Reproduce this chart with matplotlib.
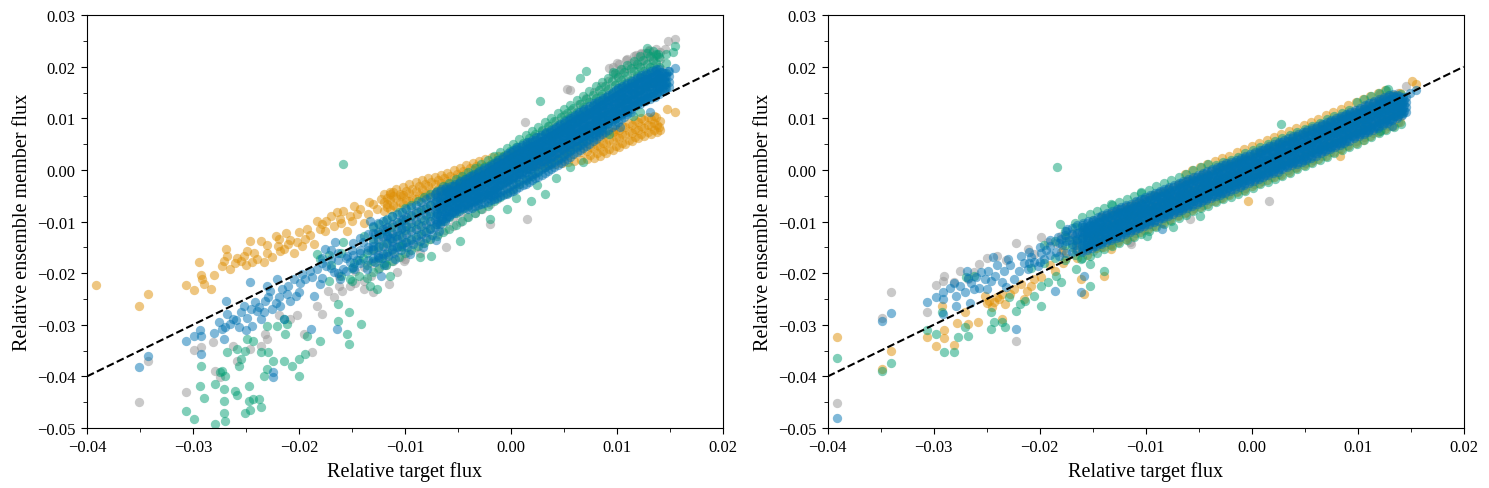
import matplotlib
matplotlib.use("Agg")
import matplotlib.pyplot as plt
from matplotlib.ticker import MultipleLocator

# fluxes, in units of 1e-3 (converted when plotted)
# dense parts of each cloud: (target flux, [member fluxes])
# sparse parts: (target flux, member flux)

# ---------------- left panel ----------------
left_gray_band = [
    (-17.3, [-23.5]), (-16.2, [-22.5, -20.5]), (-14.7, [-22.0, -19.5]), (-13.9, [-21.5, -18.8]),
    (-13.2, [-20.5, -18.0, -15.5]),
    (-12.5, [-19.2, -17.4, -15.6, -13.8, -12.0]), (-11.8, [-18.4, -16.6, -14.8, -13.0, -11.2]),
    (-11.1, [-17.6, -15.8, -14.0, -12.2, -10.4]), (-10.4, [-16.8, -15.0, -13.2, -11.4, -9.6]),
    (-9.7, [-15.9, -14.1, -12.3, -10.5, -8.7]), (-9.0, [-15.0, -13.3, -11.4, -9.7, -7.9]),
    (-8.3, [-14.2, -12.4, -10.6, -8.8, -7.0]), (-7.6, [-13.4, -11.5, -9.8, -7.9, -6.2]),
    (-6.9, [-12.5, -10.7, -8.9, -7.1, -5.3]), (-6.2, [-11.7, -9.9, -8.1, -6.3, -4.5]),
    (-5.5, [-10.9, -9.1, -7.3, -5.5, -3.7]), (-4.8, [-10.0, -8.3, -6.4, -4.7, -2.9]),
    (-4.1, [-9.2, -7.4, -5.6, -3.8, -2.0]), (-3.4, [-8.3, -6.6, -4.7, -3.0, -1.2]),
    (-2.7, [-7.5, -5.7, -3.9, -2.1, -0.3]), (-2.0, [-6.6, -4.8, -3.0, -1.2, 0.6]),
    (-1.3, [-5.6, -3.9, -2.0, -0.3, 1.5]), (-0.6, [-4.7, -2.9, -1.1, 0.7, 2.5]),
    (0.1, [-3.8, -2.0, -0.2, 1.7, 3.4]), (0.8, [-2.8, -1.0, 0.9, 2.6, 4.5]),
    (1.5, [-1.7, 0.1, 1.9, 3.7, 5.5]), (2.2, [-0.7, 1.1, 2.9, 4.7, 6.5]),
    (2.9, [0.3, 2.1, 3.9, 5.7, 7.5]), (3.6, [1.3, 3.1, 4.9, 6.7, 8.5]),
    (4.3, [2.4, 4.2, 6.0, 7.8, 9.5]), (5.0, [3.5, 5.3, 7.1, 8.9, 10.6]),
    (5.7, [4.6, 6.4, 8.2, 10.0, 11.7]), (6.4, [5.6, 7.4, 9.2, 11.0, 12.8]),
    (7.1, [6.8, 8.6, 10.4, 12.2, 13.9]), (7.8, [7.9, 9.7, 11.5, 13.3, 15.1]),
    (8.5, [9.0, 10.8, 12.6, 14.4, 16.2]), (9.2, [10.1, 11.9, 13.7, 15.5, 17.3]),
    (9.9, [11.3, 13.0, 14.8, 16.6, 18.4]), (10.6, [12.4, 14.2, 16.0, 17.8, 19.6]),
    (11.3, [13.6, 15.4, 17.2, 18.9, 20.7]), (12.0, [14.7, 16.5, 18.3, 20.1, 21.9]),
    (12.7, [15.8, 17.6, 19.4, 21.1, 22.6]), (13.4, [16.8, 18.6, 20.4, 22.0]),
    (14.1, [17.9, 19.7, 21.5, 22.8]),
    (9.6, [18.5, 20.0]), (10.2, [19.2, 20.6]), (10.9, [19.8, 21.3]), (11.6, [20.5, 22.0]),
    (12.3, [21.2, 22.6]), (13.0, [21.8, 23.0]), (13.7, [22.2, 23.4]),
]
left_gray_pts = [
    (-35.1, -44.9), (-34.2, -36.95), (-30.7, -43.1), (-29.9, -34.9), (-29.2, -34.4), (-28.1, -33.4),
    (-27.9, -38.9), (-27.4, -40.2), (-25.85, -36.95), (-26.2, -34.05), (-24.6, -34.7), (-23.6, -34.05),
    (-23.2, -31.8), (-23.0, -32.8), (-21.9, -28.2), (-20.8, -28.9), (-20.2, -28.2), (-19.55, -31.8),
    (-18.8, -35.3), (-18.3, -26.3), (-17.8, -27.9), (-16.7, -24.7), (-15.9, -23.4), (-15.2, -22.4),
    (-13.9, -23.1), (-13.0, -23.7), (-11.5, -22.1), (-10.1, -17.6), (-10.75, -19.8), (-10.0, -17.3),
    (-8.6, -16.0), (-6.1, -15.0), (-2.0, -10.5), (1.5, -9.5), (1.3, 9.2), (5.25, 15.7), (5.6, 15.4),
    (9.3, 19.8), (10.0, 20.8), (11.0, 21.5), (11.85, 22.3), (12.3, 22.5), (13.0, 23.2), (14.5, 23.5),
    (14.8, 25.0), (15.5, 25.4),
]

left_orange_band = [
    (-12.0, [-8.0, -6.3, -4.6]), (-11.4, [-7.6, -5.9, -4.2]), (-10.8, [-7.1, -5.4, -3.7]),
    (-10.2, [-6.6, -4.9, -3.3]), (-9.6, [-6.1, -4.5, -2.8]), (-9.0, [-5.7, -4.0, -2.4]),
    (-8.4, [-5.2, -3.6, -2.0]), (-7.8, [-4.8, -3.2, -1.6]), (-7.2, [-4.4, -2.8, -1.3]),
    (-6.6, [-4.0, -2.5, -0.9]), (-6.0, [-3.6, -2.1, -0.6]), (-5.4, [-3.1, -1.6, -0.1]),
    (-4.8, [-2.6, -1.1, 0.4]), (-4.2, [-2.1, -0.6, 0.9]), (-3.6, [-1.6, -0.1, 1.4]),
    (-3.0, [-1.1, 0.4, 1.8]), (-2.4, [-0.7, 0.8, 2.2]), (-1.8, [-0.4, 1.1, 2.5]),
    (-1.2, [-0.1, 1.3, 2.7]), (-0.6, [0.1, 1.5, 2.9]), (0.0, [0.3, 1.7, 3.0]),
    (0.6, [0.5, 1.8, 3.1]), (1.2, [0.6, 1.9, 3.2]), (1.8, [0.7, 2.0, 3.3]),
    (2.4, [0.8, 2.1, 3.4]), (3.0, [0.9, 2.2, 3.5]), (3.6, [1.0, 2.3, 3.7]),
    (4.2, [1.1, 2.5, 3.9]), (4.8, [1.3, 2.7, 4.1]), (5.4, [1.5, 2.9, 4.3]),
    (6.0, [1.7, 3.1, 4.6]), (6.6, [1.9, 3.4, 4.9]), (7.2, [2.1, 3.7, 5.3]),
    (7.8, [2.4, 4.0, 5.7]), (8.4, [2.8, 4.5, 6.2]), (9.0, [3.3, 5.0, 6.7]),
    (9.6, [3.8, 5.6, 7.3]), (10.2, [4.4, 6.1, 7.8]), (10.8, [5.0, 6.7, 8.3]),
    (11.4, [5.6, 7.2, 8.8]), (12.0, [6.1, 7.7, 9.2]), (12.6, [6.6, 8.1, 9.6]),
    (13.2, [7.0, 8.5, 9.9]), (13.8, [7.4, 8.7]),
]
left_orange_fill = [
    (-11.7, [-7.2, -5.5]), (-11.1, [-6.8, -5.0]), (-10.5, [-6.3, -4.6]), (-9.9, [-5.8, -4.1]),
    (-9.3, [-5.4, -3.7]), (-8.7, [-4.9, -3.2]), (-8.1, [-4.5, -2.8]), (-7.5, [-4.0, -2.4]),
    (-6.9, [-3.6, -2.0]), (-6.3, [-3.2, -1.6]), (-5.7, [-2.7, -1.2]), (-5.1, [-2.2, -0.7]),
    (-4.5, [-1.7, -0.2]), (-3.9, [-1.2, 0.3]), (-3.3, [-0.7, 0.8]),
    (7.5, [2.9, 4.5]), (8.1, [3.2, 4.8]), (8.7, [3.6, 5.3, 6.9]), (9.3, [4.1, 5.8, 7.5]),
    (9.9, [4.6, 6.3, 8.0]), (10.5, [5.2, 6.9, 8.6]), (11.1, [5.8, 7.5, 9.1]), (11.7, [6.3, 8.0, 9.6]),
    (12.3, [6.9, 8.5, 10.0]), (12.9, [7.3, 8.8, 10.3]), (13.5, [7.7, 9.1, 10.5]), (14.1, [7.8, 9.4]),
]
left_orange_pts = [
    (-39.1, -22.2), (-35.1, -26.4), (-34.2, -24.1), (-30.7, -22.2), (-29.9, -23.3), (-29.4, -17.9),
    (-29.2, -20.3), (-29.1, -21.1), (-29.0, -22.1), (-28.3, -23.1), (-28.0, -20.3), (-27.3, -18.7),
    (-27.1, -17.6), (-26.9, -15.3), (-26.8, -16.6), (-26.5, -19.2), (-25.85, -17.07), (-25.5, -17.6),
    (-25.2, -16.6), (-24.9, -15.65), (-24.6, -13.7), (-24.4, -17.9), (-24.0, -17.3), (-23.6, -13.7),
    (-23.3, -17.9), (-23.0, -16.0), (-22.5, -16.9), (-22.2, -12.75), (-21.9, -13.4), (-21.8, -15.65),
    (-21.45, -15.3), (-21.2, -12.2), (-21.0, -14.4), (-20.5, -16.0), (-20.0, -12.1), (-19.7, -14.7),
    (-19.4, -13.4), (-19.2, -11.45), (-18.6, -14.4), (-18.3, -9.8), (-18.0, -11.45), (-17.8, -10.5),
    (-17.4, -9.8), (-16.7, -10.8), (-16.4, -8.2), (-16.1, -9.5), (-15.8, -7.9), (-15.5, -11.8),
    (-15.2, -8.9), (-14.8, -6.9), (-14.2, -7.6), (-13.9, -10.2), (-13.4, -6.3), (-13.0, -6.6),
    (-12.6, -7.6), (-12.3, -5.6), (-11.7, -6.6), (-11.4, -4.7), (-11.1, -4.35), (-10.4, -5.0),
    (-26.0, -18.0), (-25.0, -18.5), (-24.2, -16.0), (-23.0, -14.5), (-22.0, -14.8), (-20.8, -13.5),
    (-20.2, -14.0), (-19.0, -12.6), (-17.5, -11.8), (-17.0, -9.0), (-16.0, -10.2), (-15.0, -9.8),
    (-14.5, -8.5), (-13.5, -8.6), (14.7, 11.8), (15.5, 11.2), (14.0, 8.25), (13.7, 10.3), (9.65, 7.3),
]

left_green_band = [
    (-17.2, [-21.5, -16.5]), (-16.0, [-20.5]), (-15.0, [-21.5, -19.0]), (-14.3, [-20.5, -17.5]),
    (-13.6, [-21.0, -18.5, -16.0]),
    (-13.0, [-19.8, -17.6, -15.4, -13.4, -11.0]), (-12.4, [-19.0, -17.1, -14.8, -12.5, -10.5]),
    (-11.8, [-18.5, -16.2, -14.1, -11.8, -9.6]), (-11.2, [-17.6, -15.5, -13.2, -11.1, -8.9]),
    (-10.6, [-16.9, -14.7, -12.6, -10.3, -8.1]), (-10.0, [-16.1, -14.0, -11.7, -9.6, -7.4]),
    (-9.4, [-15.5, -13.3, -11.1, -8.9, -6.7]), (-8.8, [-14.8, -12.6, -10.4, -8.2, -6.0]),
    (-8.2, [-14.1, -11.9, -9.7, -7.5, -5.3]), (-7.6, [-13.4, -11.2, -9.0, -6.8, -4.6]),
    (-7.0, [-12.7, -10.5, -8.4, -6.1, -4.0]), (-6.4, [-12.1, -9.8, -7.6, -5.5, -3.2]),
    (-5.8, [-11.4, -9.1, -7.0, -4.7, -2.5]), (-5.2, [-10.6, -8.4, -6.2, -4.0, -1.8]),
    (-4.6, [-9.9, -7.6, -5.4, -3.3, -1.1]), (-4.0, [-9.1, -6.9, -4.7, -2.5, -0.3]),
    (-3.4, [-8.4, -6.1, -4.0, -1.7, 0.4]), (-2.8, [-7.6, -5.4, -3.2, -1.0, 1.2]),
    (-2.2, [-6.9, -4.6, -2.4, -0.3, 1.9]), (-1.6, [-6.0, -3.9, -1.6, 0.5, 2.7]),
    (-1.0, [-5.2, -3.0, -0.9, 1.3, 3.5]), (-0.4, [-4.5, -2.2, 0.0, 2.2, 4.3]),
    (0.2, [-3.6, -1.5, 0.8, 2.9, 5.1]), (0.8, [-2.8, -0.6, 1.6, 3.8, 6.0]),
    (1.4, [-2.0, 0.2, 2.4, 4.6, 6.8]), (2.0, [-1.2, 1.0, 3.2, 5.4, 7.6]),
    (2.6, [-0.4, 1.9, 4.0, 6.3, 8.4]), (3.2, [0.5, 2.7, 4.9, 7.1, 9.3]),
    (3.8, [1.3, 3.5, 5.7, 7.9, 10.1]), (4.4, [2.1, 4.4, 6.6, 8.7, 11.0]),
    (5.0, [3.0, 5.2, 7.4, 9.6, 11.8]), (5.6, [3.9, 6.0, 8.2, 10.5, 12.6]),
    (6.2, [4.7, 6.9, 9.1, 11.3, 13.5]), (6.8, [5.6, 7.8, 10.0, 12.2, 14.4]),
    (7.4, [6.5, 8.7, 10.9, 13.1, 15.3]), (8.0, [7.4, 9.6, 11.8, 14.0, 16.2]),
    (8.6, [8.2, 10.4, 12.6, 14.8, 17.0]), (9.2, [9.1, 11.3, 13.5, 15.7, 17.9]),
    (9.8, [9.9, 12.1, 14.3, 16.5, 18.7]), (10.4, [10.8, 13.0, 15.2, 17.4, 19.6]),
    (11.0, [11.6, 13.8, 16.0, 18.2, 20.4]), (11.6, [12.5, 14.7, 16.9, 19.1, 21.2]),
    (12.2, [13.4, 15.5, 17.8, 19.9, 22.0]), (12.8, [14.2, 16.3, 18.5, 20.6, 22.6]),
    (13.4, [15.0, 17.1, 19.3, 21.3, 23.0]), (14.0, [15.8, 17.9, 20.0, 21.9]),
    (14.6, [16.6, 18.7, 20.7, 22.5]),
]
left_green_fill = [
    (-6.1, [-6.2, -4.0]), (-5.5, [-5.5, -3.2]), (-4.9, [-4.7, -2.5]), (-4.3, [-3.9, -1.8]),
    (-3.7, [-3.2, -1.0]), (-3.1, [-2.4, -0.3]), (-2.5, [-1.7, 0.5]), (-1.9, [-0.9, 1.2]),
    (-1.3, [-0.1, 2.0]), (-0.7, [0.6, 2.8]), (-0.1, [1.5, 3.6]), (0.5, [2.3, 4.4]),
    (1.1, [3.1, 5.3]), (1.7, [3.9, 6.1]), (2.3, [4.8, 6.9]), (2.9, [5.6, 7.8]),
    (3.5, [6.4, 8.6]), (4.1, [7.2, 9.4]), (4.7, [8.1, 10.3]), (5.3, [8.9, 11.1]),
    (5.9, [9.8, 12.0]), (6.5, [10.6, 12.8]), (7.1, [11.5, 13.7]), (7.7, [12.4, 14.6]),
    (8.3, [13.3, 15.5]), (8.9, [14.1, 16.3]), (9.5, [15.0, 17.2]), (10.1, [15.8, 18.0]),
    (10.7, [16.7, 18.9]), (11.3, [17.5, 19.7]), (11.9, [18.4, 20.5]), (12.5, [19.2, 21.3]),
    (13.1, [19.9, 22.0]), (13.7, [20.7, 22.5]),
]
left_green_pts = [
    (-15.85, 1.1),
    (-18.3, -16.3), (-18.0, -17.3), (-15.8, -14.0), (-15.2, -21.1), (-13.9, -12.75), (-13.3, -22.4),
    (-12.6, -23.1), (-11.4, -20.5), (-10.4, -14.7), (-17.0, -18.5), (-16.0, -16.0), (-14.8, -18.0),
    (-14.0, -17.0), (-12.0, -18.0),
    (-16.3, -26.0), (-15.3, -27.6), (-16.3, -29.2), (-15.5, -31.8), (-15.3, -33.7), (-14.1, -29.9),
    (-21.45, -28.9), (-21.3, -31.8), (-23.0, -30.2), (-23.6, -35.3), (-22.9, -35.3), (-22.4, -37.0),
    (-21.45, -37.0), (-20.7, -37.9), (-20.0, -36.6), (-19.4, -35.7), (-20.0, -39.9), (-19.25, -32.1),
    (-18.0, -33.1), (-23.3, -39.9), (-23.0, -38.6), (-21.1, -29.8), (-22.1, -30.2),
    (-24.9, -32.8), (-24.3, -33.1), (-25.1, -35.0), (-25.85, -34.7), (-26.8, -35.3), (-25.5, -36.6),
    (-25.7, -37.9), (-27.3, -38.9), (-27.4, -39.2), (-26.95, -39.9), (-27.9, -41.5), (-27.1, -42.4),
    (-26.0, -42.8), (-25.85, -43.7), (-24.7, -41.8), (-24.75, -44.7), (-24.3, -44.4), (-23.8, -44.4),
    (-23.6, -46.0), (-24.6, -46.6), (-25.1, -47.0), (-27.1, -44.7), (-27.1, -47.0), (-26.95, -48.6),
    (-27.9, -49.2), (-29.0, -44.25), (-29.3, -41.9), (-29.2, -37.9), (-30.7, -46.8), (-29.9, -48.3),
    (1.9, -6.0), (3.2, -4.7), (4.3, -1.5), (2.5, -3.0), (5.6, 0.5), (6.8, 1.5), (0.5, -5.5),
    (-0.4, -7.6), (-2.0, -9.5), (-4.8, -13.7), (-7.5, -16.7), (-8.6, -16.9), (9.3, 6.9), (11.5, 10.5),
    (12.2, 11.2), (2.7, 13.4), (6.5, 17.9), (7.1, 19.2), (9.65, 18.9), (12.8, 23.7), (13.9, 22.4),
    (15.3, 22.8), (15.5, 24.1),
]

left_blue_band = [
    (-17.8, [-21.0, -17.0]), (-17.0, [-19.0, -15.5]), (-16.3, [-20.0, -16.0]), (-15.6, [-19.5, -17.0]),
    (-14.9, [-18.8, -16.5, -14.2]), (-14.2, [-18.0, -15.6, -13.2]), (-13.5, [-17.5, -15.0, -12.5]),
    (-13.0, [-17.1, -15.5, -14.0, -12.3, -10.9]), (-12.55, [-16.8, -15.0, -13.4, -12.0, -10.3]),
    (-12.1, [-16.2, -14.7, -13.0, -11.5, -9.9]), (-11.65, [-15.9, -14.2, -12.6, -11.1, -9.5]),
    (-11.2, [-15.3, -13.8, -12.2, -10.5, -9.0]), (-10.75, [-15.0, -13.3, -11.8, -10.1, -8.6]),
    (-10.3, [-14.4, -12.9, -11.2, -9.8, -8.1]), (-9.85, [-14.0, -12.4, -10.9, -9.2, -7.6]),
    (-9.4, [-13.5, -11.9, -10.3, -8.8, -7.2]), (-8.95, [-13.0, -11.5, -9.8, -8.3, -6.7]),
    (-8.5, [-12.5, -10.9, -9.4, -7.7, -6.2]), (-8.05, [-12.0, -10.4, -8.8, -7.3, -5.7]),
    (-7.6, [-11.5, -9.9, -8.4, -6.8, -5.2]), (-7.15, [-11.0, -9.5, -7.8, -6.3, -4.7]),
    (-6.7, [-10.4, -8.9, -7.3, -5.8, -4.1]), (-6.25, [-9.9, -8.4, -6.8, -5.2, -3.7]),
    (-5.8, [-8.9, -7.5, -6.2, -5.0, -3.6]), (-5.35, [-8.3, -7.1, -5.7, -4.4, -3.1]),
    (-4.9, [-7.9, -6.5, -5.3, -3.9, -2.6]), (-4.45, [-7.3, -6.0, -4.7, -3.4, -2.1]),
    (-4.0, [-6.8, -5.5, -4.2, -2.9, -1.6]), (-3.55, [-6.3, -5.0, -3.7, -2.4, -1.1]),
    (-3.1, [-5.8, -4.5, -3.2, -1.9, -0.6]), (-2.65, [-5.3, -4.0, -2.7, -1.4, -0.1]),
    (-2.2, [-4.8, -3.5, -2.2, -0.9, 0.4]), (-1.75, [-4.3, -2.9, -1.6, -0.3, 1.0]),
    (-1.3, [-3.6, -2.3, -1.0, 0.3, 1.6]), (-0.85, [-3.0, -1.7, -0.4, 0.9, 2.2]),
    (-0.4, [-2.4, -1.1, 0.2, 1.6, 2.9]), (0.05, [-1.8, -0.4, 0.9, 2.1, 3.5]),
    (0.5, [-1.3, 0.1, 1.4, 2.6, 4.0]), (0.95, [-0.8, 0.6, 1.8, 3.1, 4.5]),
    (1.4, [-0.3, 1.0, 2.4, 3.6, 5.0]), (1.85, [0.2, 1.5, 2.8, 4.2, 5.5]),
    (2.3, [0.7, 2.0, 3.3, 4.6, 5.9]), (2.75, [1.2, 2.5, 3.8, 5.1, 6.4]),
    (3.2, [1.7, 3.0, 4.3, 5.6, 6.9]), (3.65, [2.1, 3.4, 4.8, 6.0, 7.4]),
    (4.1, [2.7, 4.0, 5.3, 6.6, 7.9]), (4.55, [3.3, 4.6, 5.9, 7.2, 8.5]),
    (5.0, [3.9, 5.2, 6.5, 7.8, 9.1]), (5.45, [4.5, 5.8, 7.1, 8.4, 9.7]),
    (5.9, [5.1, 6.4, 7.7, 9.0, 10.3]), (6.35, [5.6, 6.9, 8.2, 9.5, 10.8]),
    (6.8, [6.1, 7.5, 8.8, 10.0, 11.4]), (7.25, [6.7, 8.0, 9.3, 10.6, 11.9]),
    (7.7, [7.2, 8.5, 9.9, 11.1, 12.5]), (8.15, [7.8, 9.1, 10.4, 11.7, 13.0]),
    (8.6, [8.4, 9.7, 11.0, 12.3, 13.6]), (9.05, [8.9, 10.2, 11.6, 12.8, 14.2]),
    (9.5, [9.5, 10.8, 12.1, 13.4, 14.8]), (9.95, [10.1, 11.4, 12.7, 14.1, 15.4]),
    (10.4, [10.7, 12.0, 13.3, 14.6, 15.9]), (10.85, [11.2, 12.5, 13.8, 15.1, 16.4]),
    (11.3, [11.8, 13.1, 14.4, 15.6, 16.9]), (11.75, [12.3, 13.6, 14.9, 16.2, 17.5]),
    (12.2, [12.8, 14.1, 15.4, 16.7, 18.0]), (12.65, [13.3, 14.6, 15.9, 17.1, 18.4]),
    (13.1, [13.7, 15.0, 16.3, 17.6, 18.8]), (13.55, [14.2, 15.5, 16.8, 18.0, 19.2]),
    (14.0, [14.8, 16.0, 17.2, 18.4, 19.5]), (14.45, [15.3, 16.5, 17.7, 18.8]),
    (14.9, [16.0, 17.1, 18.2, 19.2]),
]
left_blue_fill = [
    (-6.93, [-10.0, -8.5, -6.9, -5.3]),
    (-6.48, [-9.5, -8.0, -6.4, -4.8]), (-6.03, [-8.9, -7.4, -5.8, -4.3]),
    (-5.58, [-8.1, -6.8, -5.4, -4.1]), (-5.13, [-7.6, -6.3, -5.0, -3.6]),
    (-4.68, [-7.1, -5.8, -4.5, -3.1]), (-4.23, [-6.6, -5.3, -4.0, -2.6]),
    (-3.78, [-6.1, -4.8, -3.5, -2.1]), (-3.33, [-5.6, -4.3, -3.0, -1.6]),
    (-2.88, [-5.1, -3.8, -2.5, -1.1]), (-2.43, [-4.6, -3.3, -2.0, -0.6]),
    (-1.98, [-4.1, -2.8, -1.5, -0.1]), (-1.53, [-3.5, -2.2, -0.9, 0.4]),
    (-1.08, [-2.9, -1.6, -0.3, 1.0]), (-0.63, [-2.3, -1.0, 0.3, 1.6]),
    (-0.18, [-1.7, -0.4, 0.9, 2.2]), (0.28, [-1.2, 0.1, 1.4, 2.7]),
    (0.73, [-0.7, 0.6, 1.9, 3.2]), (1.18, [-0.2, 1.1, 2.4, 3.7]),
    (1.63, [0.3, 1.6, 2.9, 4.2]), (2.08, [0.8, 2.1, 3.4, 4.7]),
    (2.53, [1.3, 2.6, 3.9, 5.2]), (2.98, [1.8, 3.1, 4.4, 5.7]),
    (3.43, [2.3, 3.6, 4.9, 6.2]), (3.88, [2.8, 4.1, 5.4, 6.7]),
    (4.33, [3.4, 4.7, 6.0, 7.3]), (4.78, [4.0, 5.3, 6.6, 7.9]),
    (5.23, [4.6, 5.9, 7.2, 8.5]), (5.68, [5.2, 6.5, 7.8, 9.1]),
    (6.13, [5.7, 7.0, 8.3, 9.6]), (6.58, [6.2, 7.5, 8.8, 10.1]),
    (7.03, [6.8, 8.1, 9.4, 10.7]), (7.48, [7.3, 8.6, 9.9, 11.2]),
    (7.93, [7.9, 9.2, 10.5, 11.8]), (8.38, [8.5, 9.8, 11.1, 12.4]),
    (8.83, [9.0, 10.3, 11.6, 12.9]), (9.28, [9.6, 10.9, 12.2, 13.5]),
    (9.73, [10.2, 11.5, 12.8, 14.1]), (10.18, [10.8, 12.1, 13.4, 14.7]),
    (10.63, [11.3, 12.6, 13.9, 15.2]), (11.08, [11.9, 13.2, 14.5, 15.8]),
    (11.53, [12.4, 13.7, 15.0, 16.3]), (11.98, [12.9, 14.2, 15.5, 16.8]),
    (12.43, [13.4, 14.7, 16.0, 17.3]), (12.88, [13.9, 15.2, 16.4, 17.7]),
    (13.33, [14.3, 15.6, 16.9, 18.1]), (13.78, [14.9, 16.1, 17.4, 18.6]),
    (14.23, [15.4, 16.6, 17.8, 19.0]), (14.68, [15.9, 17.1, 18.3]),
]
left_blue_fill2 = [
    (-7.04, [-10.5, -9.0, -7.3, -5.8, -4.3]),
    (-6.59, [-9.9, -8.4, -6.8, -5.3, -3.7]), (-6.14, [-9.4, -7.9, -6.3, -4.7, -3.3]),
    (-5.69, [-8.5, -7.0, -5.7, -4.5, -3.2]), (-5.24, [-7.9, -6.6, -5.2, -3.9, -2.7]),
    (-4.79, [-7.4, -6.0, -4.8, -3.4, -2.2]), (-4.34, [-6.8, -5.5, -4.2, -2.9, -1.7]),
    (-3.89, [-6.3, -5.0, -3.7, -2.4, -1.2]), (-3.44, [-5.8, -4.5, -3.2, -1.9, -0.7]),
    (-2.99, [-5.3, -4.0, -2.7, -1.4, -0.2]), (-2.54, [-4.8, -3.5, -2.2, -0.9, 0.3]),
    (-2.09, [-4.3, -3.0, -1.7, -0.4, 0.8]), (-1.64, [-3.8, -2.4, -1.1, 0.2, 1.4]),
    (-1.19, [-3.1, -1.8, -0.5, 0.8, 2.0]), (-0.74, [-2.5, -1.2, 0.1, 1.4, 2.6]),
    (-0.29, [-1.9, -0.6, 0.7, 2.1, 3.3]), (0.16, [-1.3, 0.1, 1.4, 2.6, 3.9]),
    (0.61, [-0.8, 0.6, 1.9, 3.1, 4.4]), (1.06, [-0.3, 1.1, 2.3, 3.6, 4.9]),
    (1.51, [0.2, 1.5, 2.9, 4.1, 5.4]), (1.96, [0.7, 2.0, 3.3, 4.7, 5.9]),
    (2.41, [1.2, 2.5, 3.8, 5.1, 6.3]), (2.86, [1.7, 3.0, 4.3, 5.6, 6.8]),
    (3.31, [2.2, 3.5, 4.8, 6.1, 7.3]), (3.76, [2.6, 3.9, 5.3, 6.5, 7.8]),
    (4.21, [3.2, 4.5, 5.8, 7.1, 8.3]), (4.66, [3.8, 5.1, 6.4, 7.7, 8.9]),
    (5.11, [4.4, 5.7, 7.0, 8.3, 9.5]), (5.56, [5.0, 6.3, 7.6, 8.9, 10.1]),
    (6.01, [5.6, 6.9, 8.2, 9.5, 10.7]), (6.46, [6.1, 7.4, 8.7, 10.0, 11.2]),
    (6.91, [6.6, 8.0, 9.3, 10.5, 11.8]), (7.36, [7.2, 8.5, 9.8, 11.1, 12.3]),
    (7.81, [7.7, 9.0, 10.4, 11.6, 12.9]), (8.26, [8.3, 9.6, 10.9, 12.2, 13.4]),
    (8.71, [8.9, 10.2, 11.5, 12.8, 14.0]), (9.16, [9.4, 10.7, 12.1, 13.3, 14.6]),
    (9.61, [10.0, 11.3, 12.6, 13.9, 15.2]), (10.06, [10.6, 11.9, 13.2, 14.6, 15.8]),
    (10.51, [11.2, 12.5, 13.8, 15.1, 16.3]), (10.96, [11.7, 13.0, 14.3, 15.6, 16.8]),
    (11.41, [12.3, 13.6, 14.9, 16.1, 17.3]), (11.86, [12.8, 14.1, 15.4, 16.7, 17.9]),
    (12.31, [13.3, 14.6, 15.9, 17.2, 18.4]), (12.76, [13.8, 15.1, 16.4, 17.6, 18.8]),
    (13.21, [14.2, 15.5, 16.8, 18.1, 19.2]), (13.66, [14.7, 16.0, 17.3, 18.5, 19.5]),
    (14.11, [15.3, 16.5, 17.7, 18.9]), (14.56, [15.8, 17.0, 18.2]),
]
# lower edge of the blue cloud, which reaches below the dashed line
left_blue_lower = [
    (-4.0, [-7.5]), (-3.7, [-7.3]), (-3.4, [-7.0]), (-3.1, [-6.8]), (-2.8, [-6.6]), (-2.5, [-6.4]),
    (-2.2, [-6.2, -5.4]), (-1.9, [-5.9, -5.1]), (-1.6, [-5.6, -4.8]), (-1.3, [-5.4, -4.5]),
    (-1.0, [-5.1, -4.2]), (-0.7, [-4.8, -3.8]), (-0.4, [-4.6, -3.5]), (-0.1, [-4.3, -3.1]),
    (0.2, [-4.0, -2.8]), (0.5, [-3.7, -2.5]), (0.8, [-3.3, -2.2]), (1.1, [-3.0, -1.8]),
    (1.4, [-2.7, -1.5]), (1.7, [-2.3, -1.1]), (2.0, [-2.0, -0.8]), (2.3, [-1.6, -0.5]),
    (2.6, [-1.3, -0.2]), (2.9, [-0.9, 0.2]), (3.2, [-0.6, 0.5]), (3.5, [-0.2, 0.9]),
    (3.8, [0.1, 1.2]), (4.1, [0.5, 1.6]), (4.4, [0.9, 2.0]), (4.7, [1.3, 2.4]),
    (5.0, [1.7, 2.8]), (5.3, [2.1, 3.2]), (5.6, [2.6, 3.6]), (5.9, [3.0, 4.0]),
    (6.2, [3.4, 4.4]), (6.5, [3.8, 4.8]), (6.8, [4.3, 5.2]), (7.1, [4.7, 5.6]),
    (7.4, [5.1, 6.0]), (7.7, [5.6, 6.4]), (8.0, [6.0, 6.8]), (8.3, [6.5, 7.3]),
    (8.6, [6.9, 7.7]), (8.9, [7.4]), (9.2, [7.8]), (9.5, [8.3]), (9.8, [8.8]),
    (10.1, [9.3]), (10.4, [9.8]), (10.7, [10.3]), (11.0, [10.8]), (11.3, [11.2]),
    (-12.8, [-17.8]), (-12.2, [-17.0]), (-11.6, [-16.6]), (-11.0, [-16.0]), (-10.4, [-15.6]),
    (-9.8, [-15.0]), (-9.2, [-14.4]), (-8.6, [-13.8]), (-8.0, [-13.2]), (-7.4, [-12.6]),
    (-6.8, [-11.8]), (-12.0, [-18.5]), (-10.9, [-17.2]), (-9.5, [-16.3]), (-8.3, [-15.0]),
    (-7.1, [-13.6]),
]
left_blue_pts = [
    (-35.1, -38.2), (-34.2, -36.0), (-30.7, -33.1), (-29.9, -32.1), (-29.2, -35.7), (-29.2, -32.1),
    (-29.3, -31.1), (-28.0, -31.5), (-27.3, -30.8), (-27.1, -32.8), (-26.95, -30.5), (-26.8, -27.9),
    (-26.9, -25.3), (-26.2, -28.9), (-25.7, -30.5), (-25.5, -27.6), (-25.2, -26.3), (-24.9, -28.6),
    (-24.6, -21.8), (-24.4, -30.2), (-24.1, -25.65), (-24.0, -27.3), (-23.6, -28.9), (-23.3, -27.6),
    (-23.0, -22.4), (-22.9, -24.7), (-22.5, -26.95), (-22.1, -21.1), (-21.9, -24.7), (-21.8, -26.3),
    (-21.45, -28.9), (-21.1, -24.0), (-20.8, -25.3), (-20.5, -21.1), (-20.0, -23.7), (-19.7, -20.2),
    (-19.4, -21.1), (-18.9, -30.8), (-18.6, -24.4), (-18.3, -19.2), (-18.0, -22.1), (-17.5, -15.3),
    (-17.4, -18.6), (-16.7, -19.8), (-16.6, -14.0), (-16.4, -30.8), (-16.1, -21.1), (-15.8, -19.2),
    (-15.5, -16.6), (-15.2, -17.9), (-14.8, -19.2), (-14.2, -16.0), (-13.6, -19.2), (-13.3, -9.8),
    (-13.0, -14.7), (-12.3, -20.5), (-11.7, -12.75), (-11.1, -14.7), (-10.4, -11.45), (-22.4, -40.2),
    (-22.4, -39.2), (-27.5, -29.5), (-26.5, -29.8), (-25.9, -29.0), (-25.0, -31.0), (-24.5, -27.0),
    (-23.8, -26.5), (-23.2, -25.3), (-22.7, -23.5), (-22.2, -25.8), (-21.6, -23.0), (-21.0, -22.5),
    (-20.3, -24.5), (-19.9, -22.0), (-19.0, -19.5), (-18.8, -20.8), (-17.8, -18.0), (-17.0, -17.2),
    (-16.3, -17.5), (-15.0, -15.5), (-14.5, -17.5), (-14.0, -14.0), (-13.5, -15.5), (-12.8, -12.5),
    (-12.5, -16.5), (-11.9, -11.5), (-11.4, -13.2), (-10.8, -12.8), (-10.2, -9.5),
    (14.8, 19.2), (15.5, 19.7), (13.1, 11.2), (10.3, 8.4), (12.95, 17.6),
]

# ---------------- right panel ----------------
right_gray_band = [
    (-19.2, [-14.0]), (-18.0, [-15.8, -12.8]), (-16.8, [-14.5, -12.2]), (-15.8, [-15.0, -11.5]),
    (-15.0, [-15.7, -13.7, -11.7, -9.7]), (-14.2, [-15.0, -13.0, -11.0, -9.0]),
    (-13.4, [-14.3, -12.3, -10.3, -8.3]), (-12.6, [-13.6, -11.6, -9.6, -7.6]),
    (-11.8, [-12.9, -10.9, -8.9, -6.9]), (-11.0, [-12.3, -10.3, -8.3, -6.3]),
    (-10.2, [-11.6, -9.6, -7.6, -5.6]), (-9.4, [-10.9, -8.9, -6.9, -4.9]),
    (-8.6, [-10.2, -8.2, -6.2, -4.2]), (-7.8, [-9.5, -7.5, -5.5, -3.5]),
    (-7.0, [-8.8, -6.8, -4.8, -2.8]), (-6.2, [-8.1, -6.1, -4.1, -2.1]),
    (-5.4, [-7.4, -5.4, -3.4, -1.4]), (-4.6, [-6.7, -4.7, -2.7, -0.7]),
    (-3.8, [-6.1, -4.1, -2.1, -0.1]), (-3.0, [-5.4, -3.4, -1.4, 0.6]),
    (-2.2, [-4.7, -2.7, -0.7, 1.3]), (-1.4, [-4.1, -2.1, -0.1, 1.9]),
    (-0.6, [-3.4, -1.4, 0.6, 2.6]), (0.2, [-2.8, -0.8, 1.2, 3.2]),
    (1.0, [-2.1, -0.1, 1.9, 3.9]), (1.8, [-1.4, 0.6, 2.6, 4.6]),
    (2.6, [-0.7, 1.3, 3.3, 5.3]), (3.4, [0.0, 2.0, 4.0, 6.0]),
    (4.2, [0.6, 2.6, 4.6, 6.6]), (5.0, [1.3, 3.3, 5.3, 7.3]),
    (5.8, [2.0, 4.0, 6.0, 8.0]), (6.6, [2.7, 4.7, 6.7, 8.7]),
    (7.4, [3.4, 5.4, 7.4, 9.4]), (8.2, [4.2, 6.2, 8.2, 10.2]),
    (9.0, [4.9, 6.9, 8.9, 10.9]), (9.8, [5.6, 7.6, 9.6, 11.6]),
    (10.6, [6.3, 8.3, 10.3, 12.3]), (11.4, [7.1, 9.1, 11.1, 13.1]),
    (12.2, [7.8, 9.8, 11.8, 13.8]), (13.0, [8.6, 10.6, 12.6, 14.6]),
    (13.8, [9.3, 11.3, 13.3, 14.9]),
]
right_gray_pts = [
    (-39.1, -45.2), (-34.9, -28.75), (-34.0, -23.7), (-30.6, -27.6), (-29.8, -22.2), (-29.0, -20.5),
    (-29.1, -21.5), (-28.1, -21.7), (-26.8, -21.1), (-26.2, -19.8), (-25.7, -18.2), (-25.0, -17.1),
    (-24.0, -16.6), (-22.2, -14.2), (-21.1, -15.3), (-19.9, -12.9), (-22.2, -33.2), (-11.4, -14.4),
    (-27.5, -19.5), (-23.2, -17.5), (-20.5, -16.2), (-18.5, -14.2), (-17.2, -13.0), (-16.0, -12.2),
    (1.6, -5.95), (14.6, 16.3), (14.1, 10.5), (12.1, 14.7), (-5.85, -9.5), (-11.5, -14.0),
]

right_orange_band = [
    (-19.0, [-18.5]), (-17.8, [-18.0, -15.5]), (-16.5, [-17.0, -14.0]), (-15.5, [-16.5, -13.0]),
    (-14.7, [-15.2, -12.5]),
    (-14.0, [-15.0, -13.1, -11.1, -9.2]), (-13.3, [-14.5, -12.5, -10.5, -8.5]),
    (-12.6, [-13.9, -11.9, -9.9, -7.9]), (-11.9, [-13.3, -11.3, -9.3, -7.3]),
    (-11.2, [-12.7, -10.7, -8.7, -6.7]), (-10.5, [-12.1, -10.1, -8.1, -6.2]),
    (-9.8, [-11.5, -9.5, -7.5, -5.5]), (-9.1, [-10.9, -8.9, -6.9, -4.9]),
    (-8.4, [-10.3, -8.3, -6.3, -4.3]), (-7.7, [-9.7, -7.7, -5.7, -3.7]),
    (-7.0, [-9.0, -7.0, -5.0, -3.0]), (-6.3, [-8.4, -6.4, -4.4, -2.4, -0.8]),
    (-5.6, [-7.8, -5.8, -3.8, -1.8, -0.1]), (-4.9, [-7.2, -5.2, -3.2, -1.2, 0.5]),
    (-4.2, [-6.6, -4.6, -2.6, -0.7, 1.1]), (-3.5, [-6.1, -4.1, -2.1, -0.1, 1.7]),
    (-2.8, [-5.5, -3.5, -1.5, 0.5, 2.3]), (-2.1, [-4.9, -2.9, -0.9, 1.0, 2.8]),
    (-1.4, [-4.3, -2.3, -0.3, 1.6, 3.4]), (-0.7, [-3.8, -1.8, 0.2, 2.2, 4.0]),
    (0.0, [-3.2, -1.2, 0.8, 2.8, 4.6]), (0.7, [-2.6, -0.6, 1.4, 3.4, 5.2]),
    (1.4, [-2.0, 0.0, 2.0, 4.0, 5.8]), (2.1, [-1.4, 0.6, 2.6, 4.6, 6.4]),
    (2.8, [-0.9, 1.1, 3.1, 5.1, 6.9]), (3.5, [-0.3, 1.7, 3.7, 5.7, 7.5]),
    (4.2, [0.3, 2.3, 4.3, 6.3, 8.1]), (4.9, [0.9, 2.9, 4.9, 6.9, 8.7]),
    (5.6, [1.5, 3.5, 5.5, 7.5, 9.3]), (6.3, [2.1, 4.1, 6.1, 8.1, 9.9]),
    (7.0, [2.8, 4.8, 6.8, 8.8, 10.6]), (7.7, [3.4, 5.4, 7.4, 9.4, 11.2]),
    (8.4, [4.0, 6.0, 8.0, 10.0, 11.8]), (9.1, [4.7, 6.7, 8.7, 10.7, 12.5]),
    (9.8, [5.3, 7.3, 9.3, 11.3, 13.1]), (10.5, [5.9, 7.9, 9.9, 11.9, 13.7]),
    (11.2, [6.6, 8.6, 10.6, 12.6, 14.4]), (11.9, [7.3, 9.3, 11.3, 13.3, 15.0]),
    (12.6, [7.9, 9.9, 11.9, 13.9, 15.4]), (13.3, [8.5, 10.5, 12.5, 14.5]),
    (14.0, [9.2, 11.2, 13.2, 14.9]),
]
right_orange_pts = [
    (-39.1, -32.4), (-34.9, -38.6), (-34.0, -35.1), (-30.6, -32.4), (-29.8, -34.05), (-29.0, -32.6),
    (-29.0, -31.1), (-29.2, -26.3), (-28.05, -33.9), (-27.8, -29.7), (-27.1, -27.6), (-26.8, -29.9),
    (-25.85, -29.5), (-25.2, -24.4), (-24.75, -25.3), (-24.3, -25.65), (-23.8, -25.0), (-23.6, -28.9),
    (-23.6, -24.05), (-22.4, -23.1), (-21.8, -22.1), (-21.45, -25.0), (-20.8, -22.4), (-20.5, -21.1),
    (-19.9, -20.8), (-16.1, -21.1), (-15.8, -24.05), (-13.9, -20.5), (-13.3, -15.3),
    (-25.0, -25.8), (-24.5, -26.5), (-24.0, -24.6), (-23.3, -26.0), (-22.8, -24.0), (-21.2, -23.5),
    (-18.6, -19.5), (-17.5, -17.0), (-16.6, -15.5), (-15.5, -14.6), (-14.8, -13.5),
    (15.1, 17.3), (15.5, 16.6), (-0.35, -5.95), (8.3, 2.8),
]

right_green_band = [
    (-20.8, [-19.0]), (-19.6, [-18.0, -14.5]), (-18.6, [-17.0, -13.8]), (-17.6, [-17.5, -14.6, -11.8]),
    (-16.7, [-16.5, -13.5, -11.0]),
    (-16.0, [-17.1, -15.1, -13.1, -11.1, -9.1]), (-15.3, [-16.6, -14.6, -12.6, -10.6, -8.6]),
    (-14.6, [-16.0, -14.0, -12.0, -10.0, -8.0]), (-13.9, [-15.4, -13.4, -11.4, -9.4, -7.4]),
    (-13.2, [-14.8, -12.8, -10.8, -8.8, -6.8]), (-12.5, [-14.2, -12.2, -10.2, -8.2, -6.2]),
    (-11.8, [-13.6, -11.6, -9.6, -7.6, -5.6]), (-11.1, [-13.0, -11.0, -9.0, -7.0, -5.0]),
    (-10.4, [-12.4, -10.4, -8.4, -6.4, -4.4]), (-9.7, [-11.8, -9.8, -7.8, -5.8, -3.8]),
    (-9.0, [-11.1, -9.1, -7.1, -5.1, -3.1]), (-8.3, [-10.5, -8.5, -6.5, -4.5, -2.5]),
    (-7.6, [-9.9, -7.9, -5.9, -3.9, -1.9]), (-6.9, [-9.3, -7.3, -5.3, -3.3, -1.3]),
    (-6.2, [-8.7, -6.7, -4.7, -2.7, -0.7]), (-5.5, [-8.0, -6.0, -4.0, -2.0, 0.0]),
    (-4.8, [-7.4, -5.4, -3.4, -1.4, 0.6]), (-4.1, [-6.9, -4.9, -2.9, -0.9, 1.1]),
    (-3.4, [-6.3, -4.3, -2.3, -0.3, 0.9]), (-2.7, [-5.7, -3.7, -1.7, 0.3, 1.5]),
    (-2.0, [-5.2, -3.2, -1.2, 0.8, 2.0]), (-1.3, [-4.6, -2.6, -0.6, 1.4, 2.6]),
    (-0.6, [-4.0, -2.0, 0.0, 2.0, 3.2]), (0.1, [-3.4, -1.4, 0.6, 2.6, 3.8]),
    (0.8, [-2.8, -0.8, 1.2, 3.2, 4.4]), (1.5, [-2.3, -0.3, 1.8, 3.8, 5.0]),
    (2.2, [-1.7, 0.3, 2.4, 4.4, 5.6]), (2.9, [-1.1, 0.9, 3.0, 5.0, 6.1]),
    (3.6, [-0.5, 1.5, 3.6, 5.6, 6.7]), (4.3, [0.2, 2.2, 4.2, 6.2, 7.3]),
    (5.0, [0.7, 2.7, 4.7, 6.7, 7.9]), (5.7, [1.4, 3.4, 5.4, 7.4, 8.5]),
    (6.4, [2.0, 4.0, 6.0, 8.0, 9.1]), (7.1, [2.6, 4.6, 6.6, 8.6, 9.8]),
    (7.8, [3.2, 5.2, 7.2, 9.2, 10.4]), (8.5, [3.9, 5.9, 7.9, 9.9, 11.0]),
    (9.2, [4.5, 6.5, 8.5, 10.5, 11.7]), (9.9, [5.1, 7.1, 9.1, 11.1, 13.1]),
    (10.6, [5.8, 7.8, 9.8, 11.8, 13.7]), (11.3, [6.4, 8.4, 10.4, 12.4, 14.3]),
    (12.0, [7.1, 9.1, 11.1, 13.1, 15.0]), (12.7, [7.7, 9.7, 11.7, 13.7, 15.5]),
    (13.4, [8.4, 10.4, 12.4, 14.3]), (14.1, [9.0, 11.0, 13.0, 14.8]),
]
right_green_pts = [
    (-18.4, 0.55),
    (-39.1, -36.4), (-34.9, -39.0), (-34.0, -37.4), (-30.6, -31.1), (-29.8, -31.8), (-29.0, -35.2),
    (-28.1, -35.2), (-29.2, -27.6), (-27.7, -32.4), (-27.1, -30.5), (-26.8, -32.1), (-26.95, -20.8),
    (-26.2, -20.5), (-24.6, -27.6), (-24.6, -30.8), (-24.3, -29.5), (-23.6, -29.5), (-23.3, -30.5),
    (-22.9, -24.7), (-22.2, -27.3), (-21.9, -26.0), (-21.4, -25.3), (-20.5, -24.4), (-19.9, -26.3),
    (-19.9, -22.4), (-19.2, -21.8), (-18.5, -20.5), (-18.0, -21.8), (-18.1, -10.5), (-16.7, -10.2),
    (-16.6, -19.2), (-16.1, -17.3), (-15.3, -22.4), (-15.3, -18.2), (-13.9, -19.5), (-13.3, -6.6),
    (-11.7, -8.2), (-10.4, -4.35), (-17.5, -13.0), (-17.0, -15.0),
    (12.9, 15.7), (12.1, 7.6), (2.8, 8.9), (-4.9, -8.9), (-7.4, -11.1), (-9.9, -12.7),
]

right_blue_band = [
    (-21.0, [-18.0, -15.8]), (-20.0, [-17.8, -15.0]), (-19.0, [-16.5, -13.6]), (-18.2, [-16.6, -14.2]),
    (-17.5, [-16.0, -13.8, -11.8]), (-17.0, [-15.9, -14.3, -12.4]), (-16.5, [-15.5, -13.8, -12.2, -10.6]),
    (-16.0, [-15.9, -14.6, -13.3, -12.0, -10.7]), (-15.55, [-15.6, -14.2, -12.9, -11.7, -10.3]),
    (-15.1, [-15.2, -13.9, -12.6, -11.3, -10.0]), (-14.65, [-14.8, -13.5, -12.2, -10.9, -9.6]),
    (-14.2, [-14.4, -13.1, -11.8, -10.5, -9.2]), (-13.75, [-14.0, -12.7, -11.4, -10.1, -8.8]),
    (-13.3, [-13.6, -12.3, -11.0, -9.7, -8.4]), (-12.85, [-13.2, -11.9, -10.6, -9.4, -8.0]),
    (-12.4, [-12.9, -11.6, -10.2, -9.0, -7.6]), (-11.95, [-12.5, -11.2, -9.8, -8.6, -7.2]),
    (-11.5, [-12.1, -10.8, -9.5, -8.2, -6.9]), (-11.05, [-11.7, -10.4, -9.1, -7.8, -6.5]),
    (-10.6, [-11.3, -10.0, -8.7, -7.4, -6.1]), (-10.15, [-10.9, -9.6, -8.3, -7.1, -5.7]),
    (-9.7, [-10.5, -9.2, -7.9, -6.7, -5.3]), (-9.25, [-10.1, -8.8, -7.5, -6.3, -4.9]),
    (-8.8, [-9.8, -8.4, -7.2, -5.9, -4.5]), (-8.35, [-9.4, -8.0, -6.8, -5.5, -4.1]),
    (-7.9, [-9.0, -7.6, -6.4, -5.0, -3.7]), (-7.45, [-8.6, -7.2, -6.0, -4.6, -3.3]),
    (-7.0, [-8.2, -6.8, -5.6, -4.2, -2.9]), (-6.55, [-7.8, -6.4, -5.2, -3.8, -2.5]),
    (-6.1, [-7.4, -6.0, -4.8, -3.4, -2.1]), (-5.65, [-7.0, -5.6, -4.4, -3.0, -1.7]),
    (-5.2, [-6.6, -5.2, -4.0, -2.6, -1.3]), (-4.75, [-6.2, -4.9, -3.6, -2.3, -1.0]),
    (-4.3, [-5.9, -4.5, -3.2, -2.0, -0.6]), (-3.85, [-5.5, -4.1, -2.9, -1.6, -0.2]),
    (-3.4, [-5.1, -3.8, -2.5, -1.2, 0.1]), (-2.95, [-4.8, -3.4, -2.1, -0.9, 0.5]),
    (-2.5, [-4.4, -3.0, -1.8, -0.4, 0.9]), (-2.05, [-4.0, -2.7, -1.4, -0.1, 1.2]),
    (-1.6, [-3.6, -2.3, -1.0, 0.3, 1.6]), (-1.15, [-3.3, -1.9, -0.7, 0.7, 2.0]),
    (-0.7, [-2.9, -1.6, -0.3, 1.0, 2.3]), (-0.25, [-2.5, -1.2, 0.1, 1.4, 2.7]),
    (0.2, [-2.2, -0.9, 0.5, 1.7, 3.1]), (0.65, [-1.8, -0.5, 0.9, 2.1, 3.5]),
    (1.1, [-1.4, -0.1, 1.2, 2.5, 3.8]), (1.55, [-1.0, 0.3, 1.6, 2.9, 4.2]),
    (2.0, [-0.6, 0.7, 2.0, 3.3, 4.6]), (2.45, [-0.3, 1.0, 2.4, 3.6, 5.0]),
    (2.9, [0.1, 1.4, 2.8, 4.0, 5.4]), (3.35, [0.5, 1.8, 3.1, 4.4, 5.7]),
    (3.8, [0.9, 2.2, 3.5, 4.8, 6.1]), (4.25, [1.2, 2.5, 3.9, 5.1, 6.5]),
    (4.7, [1.6, 2.9, 4.2, 5.5, 6.9]), (5.15, [2.0, 3.3, 4.6, 5.9, 7.3]),
    (5.6, [2.4, 3.7, 5.0, 6.3, 7.7]), (6.05, [2.8, 4.1, 5.4, 6.7, 8.1]),
    (6.5, [3.2, 4.5, 5.9, 7.1, 8.5]), (6.95, [3.6, 4.9, 6.3, 7.5, 8.9]),
    (7.4, [4.0, 5.3, 6.7, 7.9, 9.3]), (7.85, [4.4, 5.7, 7.1, 8.3, 9.7]),
    (8.3, [4.8, 6.1, 7.5, 8.7, 10.1]), (8.75, [5.3, 6.6, 7.9, 9.2, 10.5]),
    (9.2, [5.7, 7.0, 8.3, 9.6, 10.9]), (9.65, [6.1, 7.4, 8.7, 10.0, 11.3]),
    (10.1, [6.5, 7.8, 9.1, 10.4, 11.7]), (10.55, [6.9, 8.2, 9.5, 10.8, 12.1]),
    (11.0, [7.4, 8.6, 9.9, 11.3, 12.5]), (11.45, [7.8, 9.0, 10.4, 11.7, 12.9]),
    (11.9, [8.2, 9.5, 10.8, 12.1, 13.3]), (12.35, [8.7, 9.9, 11.2, 12.5, 13.7]),
    (12.8, [9.1, 10.3, 11.6, 12.9, 14.1]), (13.25, [9.6, 10.8, 12.0, 13.2, 14.3]),
    (13.7, [10.1, 11.2, 12.4, 13.5, 14.6]), (14.15, [10.7, 11.7, 12.8, 13.9]),
    (14.6, [11.3, 12.2, 13.2, 14.2]),
]
right_blue_fill = [
    (-15.78, [-15.0, -13.7, -12.4, -11.1]), (-15.33, [-14.7, -13.4, -12.1, -10.8]),
    (-14.88, [-14.3, -13.0, -11.7, -10.4]), (-14.43, [-13.9, -12.6, -11.3, -10.0]),
    (-13.98, [-13.5, -12.2, -10.9, -9.6]), (-13.53, [-13.1, -11.8, -10.5, -9.2]),
    (-13.08, [-12.7, -11.4, -10.1, -8.8]), (-12.63, [-12.3, -11.0, -9.7, -8.4]),
    (-12.18, [-12.0, -10.7, -9.4, -8.1]), (-11.73, [-11.6, -10.3, -9.0, -7.7]),
    (-11.28, [-11.2, -9.9, -8.6, -7.3]), (-10.83, [-10.8, -9.5, -8.2, -6.9]),
    (-10.38, [-10.4, -9.1, -7.8, -6.5]), (-9.93, [-10.0, -8.7, -7.4, -6.1]),
    (-9.48, [-9.6, -8.3, -7.0, -5.7]), (-9.03, [-9.2, -7.9, -6.6, -5.3]),
    (-8.58, [-8.9, -7.6, -6.3, -5.0]), (-8.13, [-8.5, -7.2, -5.9, -4.6]),
    (-7.68, [-8.1, -6.8, -5.5, -4.2]), (-7.23, [-7.7, -6.4, -5.1, -3.8]),
    (-6.78, [-7.3, -6.0, -4.7, -3.4]), (-6.33, [-6.9, -5.6, -4.3, -3.0]),
    (-5.88, [-6.5, -5.2, -3.9, -2.6]), (-5.43, [-6.1, -4.8, -3.5, -2.2]),
    (-4.98, [-5.7, -4.4, -3.1, -1.8]), (-4.53, [-5.4, -4.1, -2.8, -1.5]),
    (-4.08, [-5.0, -3.7, -2.4, -1.1]), (-3.63, [-4.6, -3.3, -2.0, -0.7]),
    (-3.18, [-4.3, -3.0, -1.7, -0.4]), (-2.73, [-3.9, -2.6, -1.3, 0.0]),
    (-2.28, [-3.5, -2.2, -0.9, 0.4]), (-1.83, [-3.2, -1.9, -0.6, 0.7]),
    (-1.38, [-2.8, -1.5, -0.2, 1.1]), (-0.93, [-2.4, -1.1, 0.2, 1.5]),
    (-0.48, [-2.0, -0.7, 0.6, 1.9]), (-0.03, [-1.7, -0.4, 0.9, 2.2]),
    (0.43, [-1.3, 0.0, 1.3, 2.6]), (0.88, [-0.9, 0.4, 1.7, 3.0]),
    (1.33, [-0.6, 0.7, 2.0, 3.3]), (1.78, [-0.2, 1.1, 2.4, 3.7]),
    (2.23, [0.2, 1.5, 2.8, 4.1]), (2.68, [0.6, 1.9, 3.2, 4.5]),
    (3.13, [0.9, 2.2, 3.5, 4.8]), (3.58, [1.3, 2.6, 3.9, 5.2]),
    (4.03, [1.7, 3.0, 4.3, 5.6]), (4.48, [2.1, 3.4, 4.7, 6.0]),
    (4.93, [2.5, 3.8, 5.1, 6.4]), (5.38, [2.9, 4.2, 5.5, 6.8]),
    (5.83, [3.3, 4.6, 5.9, 7.2]), (6.28, [3.7, 5.0, 6.3, 7.6]),
    (6.73, [4.1, 5.4, 6.7, 8.0]), (7.18, [4.5, 5.8, 7.1, 8.4]),
    (7.63, [4.9, 6.2, 7.5, 8.8]), (8.08, [5.3, 6.6, 7.9, 9.2]),
    (8.53, [5.7, 7.0, 8.3, 9.6]), (8.98, [6.1, 7.4, 8.7, 10.0]),
    (9.43, [6.5, 7.8, 9.1, 10.4]), (9.88, [6.9, 8.2, 9.5, 10.8]),
    (10.33, [7.4, 8.7, 10.0, 11.3]), (10.78, [7.8, 9.1, 10.4, 11.7]),
    (11.23, [8.2, 9.5, 10.8, 12.1]), (11.68, [8.6, 9.9, 11.2, 12.5]),
    (12.13, [9.1, 10.4, 11.7, 13.0]), (12.58, [9.5, 10.8, 12.1, 13.4]),
    (13.03, [9.9, 11.2, 12.5, 13.8]), (13.48, [10.4, 11.6, 12.9, 14.1]),
    (13.93, [10.9, 12.1, 13.3, 14.4]), (14.38, [11.5, 12.5, 13.6]),
]
right_blue_fill2 = [
    (-15.89, [-15.5, -14.2, -12.9, -11.6, -10.3]), (-15.44, [-15.2, -13.8, -12.5, -11.3, -9.9]),
    (-14.99, [-14.8, -13.5, -12.2, -10.9, -9.6]), (-14.54, [-14.4, -13.1, -11.8, -10.5, -9.2]),
    (-14.09, [-14.0, -12.7, -11.4, -10.1, -8.8]), (-13.64, [-13.6, -12.3, -11.0, -9.7, -8.4]),
    (-13.19, [-13.2, -11.9, -10.6, -9.3, -8.0]), (-12.74, [-12.8, -11.5, -10.2, -9.0, -7.6]),
    (-12.29, [-12.5, -11.2, -9.8, -8.6, -7.2]), (-11.84, [-12.1, -10.8, -9.4, -8.2, -6.8]),
    (-11.39, [-11.7, -10.4, -9.1, -7.8, -6.5]), (-10.94, [-11.3, -10.0, -8.7, -7.4, -6.1]),
    (-10.49, [-10.9, -9.6, -8.3, -7.0, -5.7]), (-10.04, [-10.5, -9.2, -7.9, -6.7, -5.3]),
    (-9.59, [-10.1, -8.8, -7.5, -6.3, -4.9]), (-9.14, [-9.7, -8.4, -7.1, -5.9, -4.5]),
    (-8.69, [-9.4, -8.0, -6.8, -5.5, -4.1]), (-8.24, [-9.0, -7.6, -6.4, -5.1, -3.7]),
    (-7.79, [-8.6, -7.2, -6.0, -4.6, -3.3]), (-7.34, [-8.2, -6.8, -5.6, -4.2, -2.9]),
    (-6.89, [-7.8, -6.4, -5.2, -3.8, -2.5]), (-6.44, [-7.4, -6.0, -4.8, -3.4, -2.1]),
    (-5.99, [-7.0, -5.6, -4.4, -3.0, -1.7]), (-5.54, [-6.6, -5.2, -4.0, -2.6, -1.3]),
    (-5.09, [-6.2, -4.8, -3.6, -2.2, -0.9]), (-4.64, [-5.8, -4.5, -3.2, -1.9, -0.6]),
    (-4.19, [-5.5, -4.1, -2.8, -1.6, -0.2]), (-3.74, [-5.1, -3.7, -2.5, -1.2, 0.2]),
    (-3.29, [-4.7, -3.4, -2.1, -0.8, 0.5]), (-2.84, [-4.4, -3.0, -1.7, -0.5, 0.9]),
    (-2.39, [-4.0, -2.6, -1.4, 0.0, 1.3]), (-1.94, [-3.6, -2.3, -1.0, 0.3, 1.6]),
    (-1.49, [-3.2, -1.9, -0.6, 0.7, 2.0]), (-1.04, [-2.9, -1.5, -0.3, 1.1, 2.4]),
    (-0.59, [-2.5, -1.2, 0.1, 1.4, 2.7]), (-0.14, [-2.1, -0.8, 0.5, 1.8, 3.1]),
    (0.31, [-1.8, -0.5, 0.9, 2.1, 3.5]), (0.76, [-1.4, -0.1, 1.3, 2.5, 3.9]),
    (1.21, [-1.0, 0.3, 1.6, 2.9, 4.2]), (1.66, [-0.6, 0.7, 2.0, 3.3, 4.6]),
    (2.11, [-0.2, 1.1, 2.4, 3.7, 5.0]), (2.56, [0.1, 1.4, 2.8, 4.0, 5.4]),
    (3.01, [0.5, 1.8, 3.2, 4.4, 5.8]), (3.46, [0.9, 2.2, 3.5, 4.8, 6.1]),
    (3.91, [1.3, 2.6, 3.9, 5.2, 6.5]), (4.36, [1.6, 2.9, 4.3, 5.5, 6.9]),
    (4.81, [2.0, 3.3, 4.6, 5.9, 7.3]), (5.26, [2.4, 3.7, 5.0, 6.3, 7.7]),
    (5.71, [2.8, 4.1, 5.4, 6.7, 8.1]), (6.16, [3.2, 4.5, 5.8, 7.1, 8.5]),
    (6.61, [3.6, 4.9, 6.3, 7.5, 8.9]), (7.06, [4.0, 5.3, 6.7, 7.9, 9.3]),
    (7.51, [4.4, 5.7, 7.1, 8.3, 9.7]), (7.96, [4.8, 6.1, 7.5, 8.7, 10.1]),
    (8.41, [5.2, 6.5, 7.9, 9.1, 10.5]), (8.86, [5.7, 7.0, 8.3, 9.6, 10.9]),
    (9.31, [6.1, 7.4, 8.7, 10.0, 11.3]), (9.76, [6.5, 7.8, 9.1, 10.4, 11.7]),
    (10.21, [6.9, 8.2, 9.5, 10.8, 12.1]), (10.66, [7.3, 8.6, 9.9, 11.2, 12.5]),
    (11.11, [7.8, 9.0, 10.3, 11.7, 12.9]), (11.56, [8.2, 9.4, 10.8, 12.1, 13.3]),
    (12.01, [8.6, 9.9, 11.2, 12.5, 13.7]), (12.46, [9.1, 10.3, 11.6, 12.9, 14.1]),
    (12.91, [9.5, 10.7, 12.0, 13.3, 14.5]), (13.36, [10.0, 11.2, 12.4, 13.6, 14.7]),
    (13.81, [10.5, 11.6, 12.8, 13.9]), (14.26, [11.1, 12.1, 13.2, 14.2]),
]
right_blue_pts = [
    (-39.1, -48.1), (-34.9, -29.3), (-34.0, -27.7), (-30.6, -25.5), (-29.8, -24.7), (-29.1, -23.7),
    (-29.1, -25.0), (-29.1, -27.9), (-28.05, -21.9), (-27.9, -24.4), (-27.1, -23.7), (-26.9, -19.5),
    (-26.8, -21.0), (-26.2, -23.1), (-25.7, -22.8), (-25.2, -21.1), (-24.9, -19.5), (-24.4, -16.9),
    (-24.2, -20.5), (-23.6, -21.8), (-23.0, -17.3), (-22.4, -21.1), (-21.8, -16.6), (-21.1, -19.2),
    (-20.5, -17.9), (-19.9, -16.0), (-19.4, -15.6), (-18.6, -23.4), (-18.0, -13.4), (-17.4, -11.5),
    (-16.7, -12.8), (-16.1, -23.7), (-15.8, -20.5), (-15.5, -12.1), (-14.8, -11.5), (-22.2, -30.8),
    (-27.5, -22.5), (-26.5, -22.0), (-26.0, -20.8), (-25.5, -19.8), (-25.0, -23.0), (-24.6, -21.5),
    (-24.0, -18.5), (-23.4, -19.6), (-23.2, -22.6), (-22.8, -18.4), (-22.0, -19.5), (-21.5, -18.0),
    (-20.8, -16.9), (-20.2, -18.6), (-19.6, -17.2), (-19.0, -14.8), (-18.5, -15.9), (-17.9, -14.5),
    (-17.2, -13.6), (-16.6, -14.6), (-16.3, -12.0), (-28.5, -22.8), (-27.9, -26.3), (-26.6, -25.8),
    (-18.3, -13.0), (-17.6, -12.6), (-17.0, -11.2), (-16.5, -13.3),
    (14.9, 15.0), (15.5, 15.4), (13.2, 8.6), (-8.5, -11.4),
]

colors = {"gray": "#949494", "orange": "#de8f05", "green": "#029e73", "blue": "#0173b2"}

panels = [
    [("gray", left_gray_band, left_gray_pts),
     ("orange", left_orange_band + left_orange_fill, left_orange_pts),
     ("green", left_green_band + left_green_fill, left_green_pts),
     ("blue", left_blue_band + left_blue_fill + left_blue_fill2 + left_blue_lower, left_blue_pts)],
    [("gray", right_gray_band, right_gray_pts),
     ("orange", right_orange_band, right_orange_pts),
     ("green", right_green_band, right_green_pts),
     ("blue", right_blue_band + right_blue_fill + right_blue_fill2, right_blue_pts)],
]


def unpack(band, pts):
    xs, ys = [], []
    for x, col in band:
        for y in col:
            xs.append(x / 1000)
            ys.append(y / 1000)
    for x, y in pts:
        xs.append(x / 1000)
        ys.append(y / 1000)
    return xs, ys


plt.rcParams['font.family'] = ['Liberation Serif', 'DejaVu Serif']

fig, axes = plt.subplots(1, 2, figsize=(14.89, 4.89), dpi=100)
fig.subplots_adjust(left=0.0584, right=0.983, bottom=0.1227, top=0.967, wspace=0.165)

for ax, series in zip(axes, panels):
    for name, band, pts in series:
        xs, ys = unpack(band, pts)
        ax.scatter(xs, ys, s=45, color=colors[name], alpha=0.5, linewidths=0)
    ax.axline((0, 0), slope=1, color='k', ls='--', lw=1.5)
    ax.set_xlim(-0.04, 0.02)
    ax.set_ylim(-0.05, 0.03)
    ax.xaxis.set_major_locator(MultipleLocator(0.01))
    ax.xaxis.set_minor_locator(MultipleLocator(0.005))
    ax.yaxis.set_major_locator(MultipleLocator(0.01))
    ax.yaxis.set_minor_locator(MultipleLocator(0.005))
    ax.tick_params(which='both', direction='out', top=False, right=False, labelsize=12)
    ax.tick_params(which='major', length=4.5)
    ax.tick_params(which='minor', length=3)
    ax.set_xlabel("Relative target flux", fontsize=14.5)
    ax.set_ylabel("Relative ensemble member flux", fontsize=14.5)

fig.savefig("out.png", dpi=100)
